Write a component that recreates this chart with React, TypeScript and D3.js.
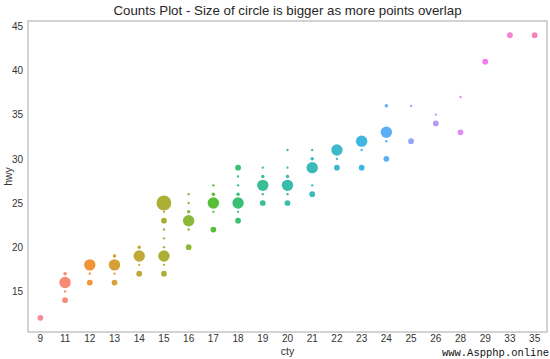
import React, { useEffect, useRef } from 'react';
import * as d3 from 'd3';

// city mpg categories on the x axis
const categories = ['9', '11', '12', '13', '14', '15', '16', '17', '18', '19', '20', '21', '22', '23', '24', '25', '26', '28', '29', '33', '35'];

// one entry per (cty, hwy) pair
const ptCty = [
  9,
  11, 11, 11, 11,
  12, 12, 12,
  13, 13, 13, 13,
  14, 14, 14, 14,
  15, 15, 15, 15, 15, 15, 15, 15, 15,
  16, 16, 16, 16, 16, 16,
  17, 17, 17, 17, 17,
  18, 18, 18, 18, 18, 18, 18,
  19, 19, 19, 19, 19,
  20, 20, 20, 20, 20, 20,
  21, 21, 21, 21, 21,
  22, 22, 22,
  23, 23, 23,
  24, 24, 24, 24,
  25, 25,
  26, 26,
  28, 28,
  29,
  33,
  35,
];
const ptHwy = [
  12,
  17, 16, 15, 14,
  18, 17, 16,
  19, 18, 17, 16,
  20, 19, 18, 17,
  25, 24, 23, 22, 21, 20, 19, 18, 17,
  26, 25, 24, 23, 22, 20,
  27, 26, 25, 24, 22,
  29, 28, 27, 26, 25, 24, 23,
  29, 28, 27, 26, 25,
  31, 29, 28, 27, 26, 25,
  31, 30, 29, 27, 26,
  31, 30, 29,
  32, 31, 29,
  36, 33, 32, 30,
  36, 32,
  35, 34,
  37, 33,
  41,
  44,
  44,
];
const ptCount = [
  4,
  2, 9, 1, 4,
  9, 1, 4,
  2, 9, 1, 4,
  2, 9, 1, 4,
  12, 1, 4, 1, 1, 1, 9, 1, 4,
  1, 1, 2, 9, 1, 4,
  1, 2, 9, 1, 4,
  4, 1, 1, 2, 9, 1, 4,
  1, 2, 9, 1, 4,
  1, 1, 2, 9, 1, 4,
  1, 2, 9, 1, 4,
  9, 1, 4,
  9, 1, 4,
  2, 9, 1, 4,
  1, 4,
  1, 4,
  1, 4,
  4,
  4,
  4,
];

const yTicks = [15, 20, 25, 30, 35, 40, 45];

// seaborn-style husl palette (HSLuv -> sRGB)
const M = [
  [3.240969941904521, -1.537383177570093, -0.498610760293],
  [-0.96924363628087, 1.87596750150772, 0.041555057407175],
  [0.055630079696993, -0.20397695888897, 1.056971514242878],
];
const refU = 0.19783000664283;
const refV = 0.46831999493879;
const kappa = 903.2962962;
const epsilon = 0.0088564516;

function maxChroma(L: number, H: number) {
  const hrad = (H / 360) * Math.PI * 2;
  const sub1 = Math.pow(L + 16, 3) / 1560896;
  const sub2 = sub1 > epsilon ? sub1 : L / kappa;
  let min = Infinity;
  for (const [m1, m2, m3] of M) {
    for (let t = 0; t < 2; t++) {
      const top1 = (284517 * m1 - 94839 * m3) * sub2;
      const top2 = (838422 * m3 + 769860 * m2 + 731718 * m1) * L * sub2 - 769860 * t * L;
      const bottom = (632260 * m3 - 126452 * m2) * sub2 + 126452 * t;
      const slope = top1 / bottom;
      const intercept = top2 / bottom;
      const len = intercept / (Math.sin(hrad) - slope * Math.cos(hrad));
      if (len >= 0) min = Math.min(min, len);
    }
  }
  return min;
}

function huslToRgb(H: number, S: number, L: number) {
  const C = (maxChroma(L, H) / 100) * S;
  const hrad = (H / 360) * Math.PI * 2;
  const U = C * Math.cos(hrad);
  const V = C * Math.sin(hrad);
  const varU = U / (13 * L) + refU;
  const varV = V / (13 * L) + refV;
  const Y = L <= 8 ? L / kappa : Math.pow((L + 16) / 116, 3);
  const X = 0 - (9 * Y * varU) / ((varU - 4) * varV - varU * varV);
  const Z = (9 * Y - 15 * varV * Y - varV * X) / (3 * varV);
  const rgb = M.map((m) => {
    const c = m[0] * X + m[1] * Y + m[2] * Z;
    const g = c <= 0.0031308 ? 12.92 * c : 1.055 * Math.pow(c, 1 / 2.4) - 0.055;
    return Math.round(Math.max(0, Math.min(1, g)) * 255);
  });
  return d3.rgb(rgb[0], rgb[1], rgb[2]).formatHex();
}

function huslPalette(n: number) {
  return d3.range(n).map((i) => {
    const h = ((i / n + 0.01) % 1) * 359;
    return huslToRgb(h, 0.9 * 99, 0.7 * 99);
  });
}

const App = () => {
  const ref = useRef<SVGSVGElement>(null);

  useEffect(() => {
    const width = 550;
    const height = 359;
    const margin = { top: 21, right: 3, bottom: 27, left: 28 };
    const font = 'Liberation Sans, Arial, sans-serif';

    const svg = d3.select(ref.current);
    svg.selectAll('*').remove();

    const x = d3
      .scaleBand()
      .domain(categories)
      .range([margin.left, width - margin.right]);

    const y = d3
      .scaleLinear()
      .domain([10.4, 45.6])
      .range([height - margin.bottom, margin.top]);

    const r = d3.scaleLinear().domain([0, 12]).range([0.6, 7.4]);
    const color = d3.scaleOrdinal<string, string>().domain(categories).range(huslPalette(categories.length));

    const points = ptCty.map((c, i) => ({ cty: String(c), hwy: ptHwy[i], n: ptCount[i] }));

    svg
      .append('g')
      .selectAll('circle')
      .data(points)
      .join('circle')
      .attr('cx', (d) => (x(d.cty) as number) + x.bandwidth() / 2)
      .attr('cy', (d) => y(d.hwy))
      .attr('r', (d) => r(d.n))
      .attr('fill', (d) => color(d.cty));

    // frame
    svg
      .append('rect')
      .attr('x', margin.left)
      .attr('y', margin.top)
      .attr('width', width - margin.left - margin.right)
      .attr('height', height - margin.top - margin.bottom)
      .attr('fill', 'none')
      .attr('stroke', '#a8a8a8')
      .attr('stroke-width', 1);

    const xAxis = svg
      .append('g')
      .attr('transform', `translate(0,${height - margin.bottom})`)
      .call(d3.axisBottom(x).tickSize(0).tickPadding(3));
    xAxis.select('.domain').remove();
    xAxis.selectAll('text').attr('fill', '#333').style('font-family', font).style('font-size', '10px');

    const yAxis = svg
      .append('g')
      .attr('transform', `translate(${margin.left},0)`)
      .call(d3.axisLeft(y).tickValues(yTicks).tickSize(0).tickPadding(5));
    yAxis.select('.domain').remove();
    yAxis.selectAll('text').attr('fill', '#333').style('font-family', font).style('font-size', '10px');

    svg
      .append('text')
      .attr('x', (margin.left + width - margin.right) / 2)
      .attr('y', height - 4)
      .attr('text-anchor', 'middle')
      .attr('fill', '#333')
      .style('font-family', font)
      .style('font-size', '10.5px')
      .text('cty');

    svg
      .append('text')
      .attr('transform', `translate(12,${(margin.top + height - margin.bottom) / 2}) rotate(-90)`)
      .attr('text-anchor', 'middle')
      .attr('fill', '#333')
      .style('font-family', font)
      .style('font-size', '10.5px')
      .text('hwy');

    svg
      .append('text')
      .attr('x', (margin.left + width - margin.right) / 2)
      .attr('y', 15)
      .attr('text-anchor', 'middle')
      .attr('fill', '#262626')
      .style('font-family', font)
      .style('font-size', '13.3px')
      .text('Counts Plot - Size of circle is bigger as more points overlap');

    svg
      .append('text')
      .attr('x', width - 1)
      .attr('y', height - 3)
      .attr('text-anchor', 'end')
      .attr('fill', '#111')
      .style('font-family', 'Liberation Mono, monospace')
      .style('font-size', '10.5px')
      .text('www.Aspphp.online');
  }, []);

  return (
    <div style={{ position: 'absolute', left: 0, top: 0 }}>
      <svg ref={ref} width={550} height={359} style={{ display: 'block', background: '#fff' }} />
    </div>
  );
};

export default App;
